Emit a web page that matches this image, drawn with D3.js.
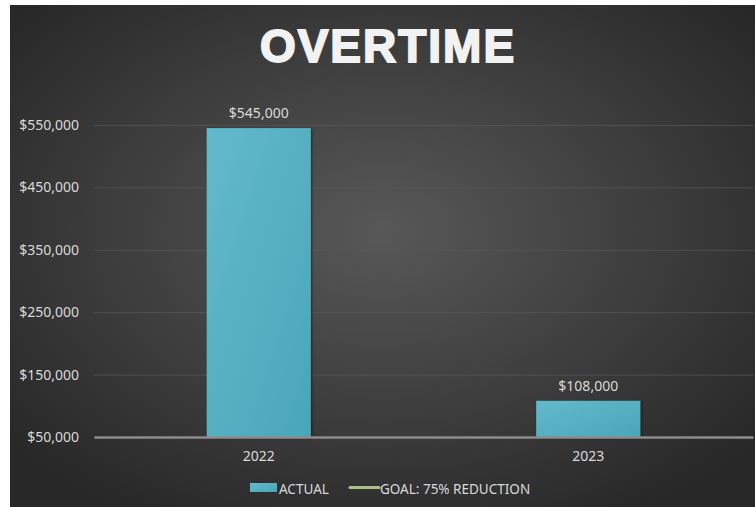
<!DOCTYPE html>
<html>
<head>
<meta charset="utf-8">
<script src="https://cdn.jsdelivr.net/npm/d3@7"></script>
<style>
  body { margin: 0; background: #fff; }
  svg { display: block; }
</style>
</head>
<body>
<svg id="chart" width="755" height="507"></svg>
<script>
// chart data
var categories = ['2022', '2023'];
var actual = [545000, 108000];
var yTicks = [50000, 150000, 250000, 350000, 450000, 550000];
var legendItems = ['ACTUAL', 'GOAL: 75% REDUCTION'];
var title = 'OVERTIME';

var svg = d3.select('#chart');
var margin = { top: 125, right: 2, bottom: 70, left: 94 };
var width = 755, height = 507;
var labelFont = 'Noto Sans, Open Sans, sans-serif';

var defs = svg.append('defs');
var bg = defs.append('radialGradient')
  .attr('id', 'bg-grad')
  .attr('cx', '50%').attr('cy', '45%').attr('r', '65%');
bg.append('stop').attr('offset', '0%').attr('stop-color', '#585858');
bg.append('stop').attr('offset', '100%').attr('stop-color', '#282828');

var barGrad = defs.append('linearGradient')
  .attr('id', 'bar-grad')
  .attr('x1', '0%').attr('y1', '0%').attr('x2', '100%').attr('y2', '100%');
barGrad.append('stop').attr('offset', '0%').attr('stop-color', '#62bacc');
barGrad.append('stop').attr('offset', '100%').attr('stop-color', '#49a6b8');

var shadow = defs.append('filter').attr('id', 'shadow')
  .attr('x', '-10%').attr('y', '-10%').attr('width', '130%').attr('height', '130%');
shadow.append('feDropShadow')
  .attr('dx', 1).attr('dy', 1).attr('stdDeviation', 1.5)
  .attr('flood-color', '#000').attr('flood-opacity', 0.5);

// background panel
svg.append('rect')
  .attr('x', 10).attr('y', 5)
  .attr('width', width - 10).attr('height', height - 5)
  .attr('fill', 'url(#bg-grad)');

// title
svg.append('text')
  .attr('x', 388).attr('y', 62)
  .attr('text-anchor', 'middle')
  .attr('font-family', 'Liberation Sans, Arial, sans-serif')
  .attr('font-weight', 'bold')
  .attr('font-size', '46px')
  .attr('letter-spacing', '2px')
  .attr('fill', '#f2f2f2')
  .attr('stroke', '#f2f2f2')
  .attr('stroke-width', 1.8)
  .text(title);

var x = d3.scaleBand()
  .domain(categories)
  .range([margin.left, width - margin.right])
  .paddingInner(0.684)
  .paddingOuter(0.342);

var y = d3.scaleLinear()
  .domain([50000, 550000])
  .range([437, 125]);

var fmt = d3.format('$,');

// gridlines + y labels
var yAxis = svg.append('g')
  .attr('transform', 'translate(' + margin.left + ',0)')
  .call(d3.axisLeft(y).tickValues(yTicks).tickFormat(fmt)
    .tickSize(-(width - margin.left - margin.right)).tickPadding(15));
yAxis.select('.domain').remove();
yAxis.selectAll('.tick line').attr('stroke', '#5a5a5a').attr('stroke-width', 1).attr('opacity', 0.7);
yAxis.selectAll('.tick text')
  .attr('fill', '#d9d9d9')
  .attr('font-family', labelFont)
  .attr('font-size', '14px');

// bars
svg.selectAll('.bar')
  .data(actual)
  .enter().append('rect')
  .attr('class', 'bar')
  .attr('x', (d, i) => x(categories[i]))
  .attr('y', d => y(d))
  .attr('width', x.bandwidth())
  .attr('height', d => y(50000) - y(d))
  .attr('fill', 'url(#bar-grad)')
  .attr('filter', 'url(#shadow)');

// value labels
svg.selectAll('.val')
  .data(actual)
  .enter().append('text')
  .attr('class', 'val')
  .attr('x', (d, i) => x(categories[i]) + x.bandwidth() / 2)
  .attr('y', d => y(d) - 10)
  .attr('text-anchor', 'middle')
  .attr('fill', '#d9d9d9')
  .attr('font-family', labelFont)
  .attr('font-size', '14px')
  .text(d => fmt(d));

// x axis
var xAxis = svg.append('g')
  .attr('transform', 'translate(0,' + y(50000) + ')')
  .call(d3.axisBottom(x).tickSize(0).tickPadding(14));
xAxis.select('.domain').attr('stroke', '#8c8c8c').attr('stroke-width', 2.5);
xAxis.selectAll('.tick text')
  .attr('fill', '#d9d9d9')
  .attr('font-family', labelFont)
  .attr('font-size', '14px');

// legend
var leg = svg.append('g').attr('transform', 'translate(250,489)');
leg.append('rect')
  .attr('x', 0).attr('y', -6)
  .attr('width', 27).attr('height', 9)
  .attr('fill', 'url(#bar-grad)');
leg.append('text')
  .attr('x', 29).attr('y', 4.5)
  .attr('fill', '#d9d9d9')
  .attr('font-family', labelFont)
  .attr('font-size', '13.5px')
  .text(legendItems[0]);
leg.append('line')
  .attr('x1', 100).attr('x2', 129)
  .attr('y1', -1.5).attr('y2', -1.5)
  .attr('stroke', '#a9c08a').attr('stroke-width', 3)
  .attr('stroke-linecap', 'round');
leg.append('text')
  .attr('x', 130).attr('y', 4.5)
  .attr('fill', '#d9d9d9')
  .attr('font-family', labelFont)
  .attr('font-size', '13.5px')
  .text(legendItems[1]);
</script>
</body>
</html>
